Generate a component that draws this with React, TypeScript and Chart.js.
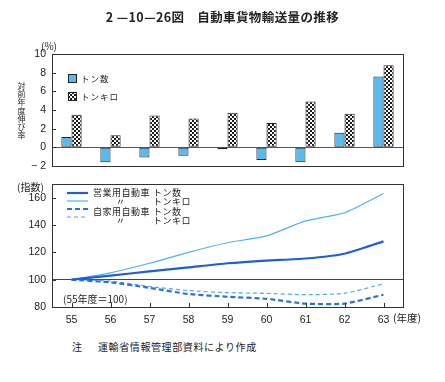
import React, { useEffect, useRef } from 'react';
import { Chart, registerables } from 'chart.js';
Chart.register(...registerables);

const years = ['55', '56', '57', '58', '59', '60', '61', '62', '63'];
const tonGrowth = [1.1, -1.6, -1.1, -0.9, -0.2, -1.35, -1.6, 1.55, 7.6];
const tonKmGrowth = [3.5, 1.3, 3.4, 3.1, 3.7, 2.6, 4.9, 3.6, 8.8];
const commercialTon = [100, 103, 106, 109, 112, 114, 115.5, 119, 128];
const commercialTonKm = [100, 105, 112, 120, 127, 132, 143, 149, 163];
const privateTon = [100, 98, 94, 89.5, 87.5, 86, 82.5, 82.5, 89];
const privateTonKm = [100, 99, 95, 92, 90.5, 90, 89, 90, 97];
const growthRange = [-2, 10];
const indexRange = [80, 170];
const barLegend = ['トン数', 'トンキロ'];
const lineLegend = [
  ['営業用自動車', 'トン数'],
  ['〃', 'トンキロ'],
  ['自家用自動車', 'トン数'],
  ['〃', 'トンキロ'],
];

const JP = '"Noto Sans CJK JP", sans-serif';
const NUM = '"Liberation Sans", Arial, sans-serif';
const FRAME = '#333';

function makePattern(): CanvasPattern | string {
  const c = document.createElement('canvas');
  c.width = 4;
  c.height = 4;
  const x = c.getContext('2d');
  if (!x) return '#888';
  x.fillStyle = '#fff';
  x.fillRect(0, 0, 4, 4);
  x.fillStyle = '#1a1a1a';
  x.fillRect(0, 0, 2, 2);
  x.fillRect(2, 2, 2, 2);
  return x.createPattern(c, 'repeat') || '#888';
}

const framePlugin = (withXTicks: boolean) => ({
  id: 'frame' + (withXTicks ? 'X' : ''),
  afterDraw(chart: any) {
    const { ctx, chartArea } = chart;
    const { left, right, top, bottom } = chartArea;
    ctx.save();
    ctx.strokeStyle = FRAME;
    ctx.lineWidth = 1;
    ctx.strokeRect(Math.round(left) + 0.5, Math.round(top) + 0.5, Math.round(right - left), Math.round(bottom - top));
    const ys = chart.scales.y;
    ctx.beginPath();
    ys.ticks.forEach((t: any) => {
      if (t.value <= ys.min || t.value >= ys.max) return;
      const py = Math.round(ys.getPixelForValue(t.value)) + 0.5;
      ctx.moveTo(left, py);
      ctx.lineTo(left + 4, py);
    });
    if (withXTicks) {
      const xs = chart.scales.x;
      years.forEach((_, i) => {
        const px = Math.round(xs.getPixelForValue(i)) + 0.5;
        ctx.moveTo(px, bottom);
        ctx.lineTo(px, bottom - 4);
      });
    }
    ctx.stroke();
    ctx.restore();
  },
});

const fixY = (s: any) => {
  s.width = 52;
  s.paddingTop = 0;
  s.paddingBottom = 0;
};

export default function App() {
  const topRef = useRef<HTMLCanvasElement>(null);
  const botRef = useRef<HTMLCanvasElement>(null);

  useEffect(() => {
    const pattern = makePattern();
    const topLegend = {
      id: 'topLegend',
      afterDraw(chart: any) {
        const ctx = chart.ctx;
        ctx.save();
        const rows = [74, 92];
        rows.forEach((y, i) => {
          ctx.fillStyle = i === 0 ? '#5ab9ef' : pattern;
          ctx.fillRect(68, y, 8, 8);
          ctx.strokeStyle = '#222';
          ctx.lineWidth = 1;
          ctx.strokeRect(68.5, y + 0.5, 8, 8);
          ctx.fillStyle = '#222';
          ctx.font = `8.5px ${JP}`;
          (ctx as any).letterSpacing = '1px';
          ctx.textBaseline = 'middle';
          ctx.fillText(barLegend[i], 81, y + 4.5);
        });
        ctx.restore();
      },
    };
    const top = new Chart(topRef.current!, {
      type: 'bar',
      data: {
        labels: years,
        datasets: [
          {
            label: barLegend[0],
            data: tonGrowth,
            backgroundColor: '#5ab9ef',
            borderColor: '#222',
            borderWidth: 1,
            borderSkipped: false,
            barPercentage: 1,
            categoryPercentage: 0.52,
          },
          {
            label: barLegend[1],
            data: tonKmGrowth,
            backgroundColor: pattern as any,
            borderColor: '#222',
            borderWidth: 1,
            borderSkipped: false,
            barPercentage: 1,
            categoryPercentage: 0.52,
          },
        ],
      },
      options: {
        responsive: false,
        animation: false,
        layout: { padding: { left: 0, top: 54, right: 42, bottom: 9 } },
        plugins: { legend: { display: false }, tooltip: { enabled: false } },
        scales: {
          x: { display: false, offset: true },
          y: {
            min: growthRange[0],
            max: growthRange[1],
            afterFit: fixY,
            ticks: {
              stepSize: 2,
              padding: 6,
              color: '#222',
              font: { size: 10.5, family: NUM },
              callback: (v: any) => (v === -2 ? '− 2' : String(v)),
            },
            grid: {
              drawTicks: false,
              color: (c: any) => (c.tick && c.tick.value === 0 ? '#555' : 'rgba(0,0,0,0)'),
            },
            border: { display: false },
          },
        },
      },
      plugins: [framePlugin(false), topLegend],
    });

    const styles = [
      { color: '#1f5ed6', width: 2.2, dash: [] as number[] },
      { color: '#4cb2f2', width: 1.2, dash: [] as number[] },
      { color: '#2b6fe0', width: 2.2, dash: [5, 3] },
      { color: '#4aaaf0', width: 1.2, dash: [4, 3] },
    ];
    const botLegend = {
      id: 'botLegend',
      afterDraw(chart: any) {
        const ctx = chart.ctx;
        ctx.save();
        const lineY = [18, 26, 34, 42];
        const textY = [18, 27, 37, 46];
        styles.forEach((s, i) => {
          ctx.strokeStyle = s.color;
          ctx.lineWidth = s.width;
          ctx.setLineDash(s.dash);
          ctx.beginPath();
          ctx.moveTo(67, lineY[i]);
          ctx.lineTo(88, lineY[i]);
          ctx.stroke();
          ctx.setLineDash([]);
          ctx.fillStyle = '#222';
          ctx.font = `9px ${JP}`;
          (ctx as any).letterSpacing = '0.5px';
          ctx.textBaseline = 'middle';
          const [a, b] = lineLegend[i];
          ctx.fillText(a, a === '〃' ? 116 : 93, textY[i]);
          ctx.fillText(b, 153, textY[i]);
        });
        ctx.font = `10px ${JP}`;
        (ctx as any).letterSpacing = '0px';
        ctx.fillText('(55年度＝100)', 63, 124);
        ctx.restore();
      },
    };
    const mk = (label: string, data: number[], s: any) => ({
      label,
      data,
      borderColor: s.color,
      borderWidth: s.width,
      borderDash: s.dash,
      pointRadius: 0,
      fill: false,
      tension: 0.2,
    });
    const bot = new Chart(botRef.current!, {
      type: 'line',
      data: {
        labels: years,
        datasets: [
          mk('営業用自動車トン数', commercialTon, styles[0]),
          mk('営業用自動車トンキロ', commercialTonKm, styles[1]),
          mk('自家用自動車トン数', privateTon, styles[2]),
          mk('自家用自動車トンキロ', privateTonKm, styles[3]),
        ],
      },
      options: {
        responsive: false,
        animation: false,
        layout: { padding: { left: 0, top: 9, right: 42, bottom: 0 } },
        plugins: { legend: { display: false }, tooltip: { enabled: false } },
        scales: {
          x: {
            offset: true,
            afterFit: (s: any) => {
              s.height = 28;
            },
            ticks: { padding: 7, color: '#222', font: { size: 10.5, family: NUM }, maxRotation: 0 },
            grid: { display: false, drawTicks: false },
            border: { display: false },
          },
          y: {
            min: indexRange[0],
            max: indexRange[1],
            afterFit: fixY,
            ticks: {
              stepSize: 20,
              padding: 6,
              color: '#222',
              font: { size: 10.5, family: NUM },
              callback: (v: any) => (v > 160 ? '' : String(v)),
            },
            grid: {
              drawTicks: false,
              color: (c: any) => (c.tick && c.tick.value === 100 ? '#444' : 'rgba(0,0,0,0)'),
            },
            border: { display: false },
          },
        },
      },
      plugins: [framePlugin(true), botLegend],
    });
    return () => {
      top.destroy();
      bot.destroy();
    };
  }, []);

  const txt = (style: React.CSSProperties): React.CSSProperties => ({
    position: 'absolute',
    color: '#222',
    fontFamily: JP,
    whiteSpace: 'nowrap',
    lineHeight: 1,
    ...style,
  });

  return (
    <div style={{ position: 'absolute', left: 0, top: 0, width: 445, height: 382, background: '#fff', overflow: 'hidden' }}>
      <canvas ref={topRef} width={445} height={175} style={{ position: 'absolute', left: 0, top: 0 }} />
      <canvas ref={botRef} width={445} height={160} style={{ position: 'absolute', left: 0, top: 175 }} />
      <div style={txt({ left: 0, width: 445, top: 11, textAlign: 'center', fontSize: 12.5, fontWeight: 'bold', letterSpacing: 0.4 })}>
        2 —10—26図　自動車貨物輸送量の推移
      </div>
      <div style={txt({ left: 41, top: 41, fontSize: 10 })}>(%)</div>
      <div style={txt({ left: 17, top: 82, fontSize: 8, writingMode: 'vertical-rl', letterSpacing: 0.2 })}>対前年度伸び率</div>
      <div style={txt({ left: 17, top: 182, fontSize: 10 })}>(指数)</div>
      <div style={txt({ left: 393, top: 313, fontSize: 10.5 })}>(年度)</div>
      <div style={txt({ left: 72, top: 342, fontSize: 10 })}>注</div>
      <div style={txt({ left: 98, top: 342, fontSize: 10, letterSpacing: 0.6 })}>運輸省情報管理部資料により作成</div>
    </div>
  );
}
